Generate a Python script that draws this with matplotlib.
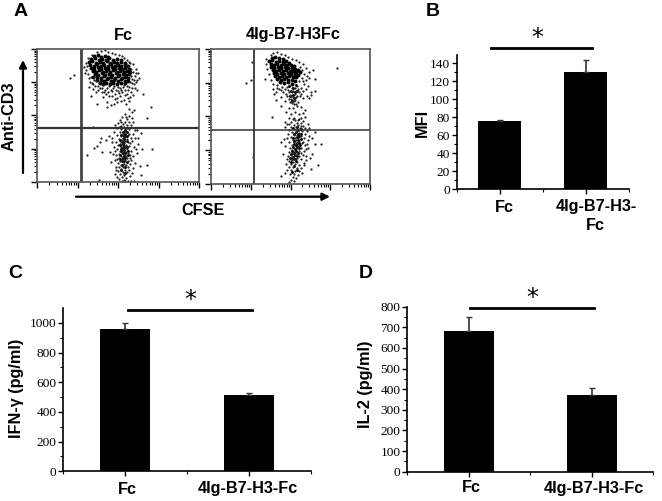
import numpy as np
import matplotlib
matplotlib.use('Agg')
import matplotlib.pyplot as plt
from matplotlib.lines import Line2D
from matplotlib.patches import FancyArrowPatch

W, H = 662, 501
plt.rcParams['font.family'] = 'Liberation Sans'

# Datos de barras
mfi = [76, 130]
mfi_err = [1, 13]
ifn = [957, 514]
ifn_err = [43, 16]
il2 = [680, 373]
il2_err = [68, 34]
labels_b = ['Fc', '4Ig-B7-H3-\nFc']
labels_cd = ['Fc', '4Ig-B7-H3-Fc']

# Citometria: puntos leidos a ojo (canal CFSE, canal CD3)
fc_core = [(57,126),(61,127),(64,125),(68,126),(71,125),(54,123),(58,124),(62,122),(65,123),(69,122),(72,124),(76,122),
(52,120),(55,121),(59,119),(63,120),(66,119),(70,121),(73,119),(77,120),(80,119),
(53,117),(57,116),(60,118),(64,116),(67,117),(71,116),(74,118),(78,116),(81,117),(84,116),
(54,114),(57,113),(61,115),(64,113),(68,114),(71,113),(75,115),(78,113),(82,114),(85,113),(88,114),
(56,111),(59,110),(62,112),(66,110),(69,111),(73,110),(76,112),(80,110),(83,111),(87,110),(90,111),
(58,108),(61,107),(65,109),(68,107),(72,108),(75,107),(79,109),(82,107),(86,108),(89,107),(92,108),
(60,105),(64,104),(67,106),(71,104),(74,105),(78,104),(81,106),(85,104),(88,105),(91,104),
(64,102),(67,101),(70,103),(74,101),(77,102),(81,101),(84,103),(88,101),(69,99),(73,98),(76,99),(80,98),(84,99),
(80,123),(84,122),(84,120),(88,119),(88,117),(91,116),(92,113),(93,110),(56,105),(60,102),(63,99),(66,98),(88,99),(91,101)]
fc_halo = [(60,130),(64,131),(68,132),(71,130),(75,129),(78,128),(82,127),(85,126),(87,124),(90,122),(92,120),(96,118),
(99,113),(101,109),(98,106),(102,104),(95,103),(93,100),(97,98),(90,96),(86,95),(81,95),(76,94),(72,96),(66,97),(62,99),
(57,102),(54,105),(51,108),(49,112),(50,116),(49,119),(51,124),(55,127),(52,95),(56,93),(59,90),(54,86),(61,92),(65,90),
(69,88),(72,86),(75,91),(78,88),(80,84),(83,86),(85,90),(87,82),(90,88),(93,85),(96,87),(100,92),(106,88),(89,78),(92,73),
(60,78),(70,80),(74,77),(70,75),(77,78),(80,80),(114,75),(110,64),(95,70),(97,72),(33,104),(37,107),(58,96),(63,94),(88,92),
(84,92),(79,92),(68,92),(91,92),(99,100),(53,100),(47,115),(55,99),(59,101),(61,96),(65,94),(70,94),(74,92),(77,96),(83,94),
(87,97),(92,95),(95,94),(98,94),(95,99),(100,102),(97,102),(94,106),(96,110),(99,109),(94,113),(91,115),(93,119),(89,118),
(48,109),(52,104),(56,98),(67,90),(71,90),(82,89),(88,87),(91,84),(94,90),(81,91),(75,86),(78,83),(66,85),(84,81),(92,81)]
fc_low = [(88,68),(92,66),(85,65),(90,63),(95,64),(83,62),(88,60),(92,60),(86,58),(81,59),(90,57),(84,56),(94,57),(87,55),
(80,54),(90,54),(84,53),(92,53),(87,51),(98,52),(83,50),(89,50),(86,48),(91,47),(84,46),(88,45),(86,44),(90,43),(85,42),
(88,41),(84,40),(91,40),(87,39),(83,38),(89,37),(86,36),(92,36),(84,35),(88,34),(85,33),(90,33),(83,31),(87,31),(89,30),
(85,29),(91,29),(82,28),(87,27),(84,26),(89,26),(86,25),(82,24),(90,24),(85,23),(88,22),(83,21),(86,20),(91,21),(81,19),
(87,18),(84,17),(89,17),(82,15),(86,15),(91,15),(84,13),(88,12),(81,11),(86,10),(90,10),(83,8),(87,7),(85,5),(89,4),(82,3),(87,2),
(77,50),(75,44),(72,46),(79,40),(77,35),(76,28),(74,20),(78,22),(79,15),(78,8),(80,5),(96,48),(98,44),(95,41),(101,38),(97,35),
(94,31),(100,29),(96,26),(94,22),(98,19),(93,18),(96,14),(95,9),(103,16),(100,52),(104,49),(105,33),(92,48),(94,44),(93,27),
(60,36),(57,34),(65,30),(63,40),(69,42),(50,27),(64,44),(115,33),(110,17),(104,7),(62,2),(75,40),(73,30),(56,55),
(85,1),(88,1),(91,1),(94,1),(97,1),(80,47),(82,43),(93,39),(80,33),(79,27),(93,24),(80,23),(92,12),(79,12),(93,6),(84,60),
(89,65),(96,60),(78,57),(101,44),(99,33),(78,31),(81,37)]
fc_streak = [(88,52),(86,50),(88,48),(87,46),(87,43),(86,40),(86,38),(87,36),(86,34),(87,32),(86,29),(87,26),(86,24),(85,21),(88,29),(84,31),
(88,24),(87,21),(83,55),(90,50),(84,47),(90,46),(83,42),(90,41),(83,37),(90,35),(84,33),(91,31),(83,27),(91,27),(83,23),(90,20),
(85,17),(88,15),(84,12),(88,9)]

b7_core = [(61,126),(64,127),(68,126),(72,125),(58,123),(61,124),(65,122),(68,123),(72,122),(75,123),(78,121),
(60,120),(63,119),(66,120),(70,119),(73,120),(76,119),(80,119),(83,118),
(60,117),(63,116),(67,117),(70,116),(74,117),(77,116),(81,116),(84,115),(87,114),
(62,114),(65,113),(68,114),(72,113),(75,114),(79,113),(82,113),(85,112),(89,112),
(63,111),(66,110),(70,111),(73,110),(77,111),(80,110),(84,110),(87,109),
(64,108),(68,107),(71,108),(75,107),(78,108),(82,107),(85,107),(66,105),(70,104),(73,105),(77,104),(81,104),(84,103),
(69,102),(73,101),(77,102),(81,100)]
b7_halo = [(60,129),(62,131),(66,132),(70,130),(74,129),(77,127),(81,125),(85,124),(88,122),(92,120),(95,116),(98,112),
(102,114),(104,105),(98,106),(95,104),(91,106),(88,103),(93,100),(97,98),(100,92),(90,96),(86,98),(81,96),(76,97),(71,97),
(66,99),(62,100),(60,104),(54,105),(58,110),(56,115),(55,120),(55,125),(62,95),(65,92),(68,95),(63,90),(72,92),(75,90),(70,87),
(78,92),(80,88),(82,93),(84,90),(86,88),(88,92),(90,90),(92,86),(78,85),(76,88),(81,84),(84,84),(79,82),(83,80),(87,82),(74,83),
(65,84),(70,78),(78,76),(82,76),(86,78),(90,77),(94,74),(98,86),(100,89),(75,72),(80,70),(84,72),(88,70),(92,71),(78,66),
(83,66),(87,64),(90,66),(94,67),(126,116),(35,101),(40,104),(41,122),(61,67),(74,62),(104,93),(96,88),
(85,87),(82,87),(79,89),(77,94),(74,95),(70,94),(66,96),(87,95),(92,93),(95,95),(92,103),(96,108),(93,110),(91,114),(89,117),
(84,96),(81,92),(85,93),(89,88),(84,86),(80,85),(83,83),(81,81),(85,80)]
b7_low = [(84,64),(88,65),(92,63),(80,62),(86,61),(90,61),(76,60),(83,59),(87,59),(92,58),(97,60),(74,57),(80,57),(85,57),(89,56),
(94,56),(78,54),(83,55),(86,54),(91,53),(96,53),(81,52),(85,52),(88,51),(94,50),(77,50),(83,49),(86,49),(90,48),(98,48),
(80,47),(84,46),(87,46),(93,46),(73,45),(82,44),(85,44),(88,43),(97,44),(78,42),(83,42),(86,41),(91,41),(81,39),(84,39),(87,38),
(94,39),(104,40),(110,40),(74,38),(79,36),(83,36),(86,36),(90,36),(97,36),(81,34),(84,33),(88,33),(93,33),(78,32),(82,31),(86,31),
(80,29),(84,29),(88,28),(92,29),(101,30),(77,28),(81,27),(83,26),(86,26),(90,25),(80,25),(84,24),(78,23),(82,22),(86,22),(95,24),
(75,20),(80,20),(84,20),(88,19),(93,19),(107,19),(78,17),(82,17),(86,16),(90,16),(100,15),(76,14),(80,14),(84,13),(88,13),(74,11),
(79,10),(83,10),(87,9),(82,7),(85,6),(80,4),(83,3),(78,2),(70,8),(42,27),(72,30),(70,42),(104,52),(101,46),(98,56),(99,26),
(76,46),(92,42),(95,35),(90,31),(76,25),(93,21),(91,11),(95,28),(90,58),(78,60),(82,65),(96,40)]
b7_streak = [(86,57),(87,54),(85,52),(87,50),(86,47),(87,44),(86,41),(85,39),(86,37),(84,35),(85,33),(83,31),(84,29),(82,27),(81,25),(84,25),
(88,48),(88,41),(83,43),(82,37),(82,56),(90,55),(83,50),(90,50),(82,46),(90,45),(83,40),(89,39),(81,33),(88,36),(80,30),(87,31),
(79,26),(86,28),(80,22),(85,23),(83,18),(86,14),(81,12),(78,98),(82,96),(85,99),(80,93),(84,92),(82,89),(86,93),(79,88),(83,86),(81,83)]

paneles = [('Fc', (37.3, 49, 199, 181.7), 43.3, 53.5, 2.0, fc_core, fc_halo + fc_low, fc_streak),
           ('4Ig-B7-H3Fc', (211, 49, 370, 184), 43, 54.3, 1.4, b7_core, b7_halo + b7_low, b7_streak)]

fig = plt.figure(figsize=(W / 100, H / 100), dpi=100)


def caja(x0, y0, x1, y1):
    return fig.add_axes([x0 / W, 1 - y1 / H, (x1 - x0) / W, (y1 - y0) / H])


def texto(x, y, s, size=11.7, weight='bold', **kw):
    kw.setdefault('ha', 'center')
    fig.text(x / W, 1 - y / H, s, fontsize=size, fontweight=weight, va='center', **kw)


def linea(x0, x1, y, lw=2):
    fig.add_artist(Line2D([x0 / W, x1 / W], [1 - y / H, 1 - y / H], color='black', lw=lw))


def flecha(x0, y0, x1, y1):
    fig.add_artist(FancyArrowPatch((x0 / W, 1 - y0 / H), (x1 / W, 1 - y1 / H),
                   transform=fig.transFigure, arrowstyle='-|>', mutation_scale=11, color='black', lw=1.6,
                   shrinkA=0, shrinkB=0))


def asterisco(x, y):
    fig.text(x / W, 1 - y / H, '*', fontsize=17, family='DejaVu Sans', ha='center', va='center')


# Panel A
for nombre, pos, vx, hy, lw, core, sueltos, streak in paneles:
    ax = caja(*pos)
    ancho = pos[2] - pos[0]
    alto = pos[3] - pos[1]
    ax.set_xlim(0, ancho)
    ax.set_ylim(0, alto)
    ax.scatter([p[0] for p in core], [p[1] for p in core], s=8, color='black', lw=0)
    ax.scatter([p[0] for p in streak], [p[1] for p in streak], s=4.5, color='black', lw=0)
    ax.scatter([p[0] for p in sueltos], [p[1] for p in sueltos], s=2.6, color='#222222', lw=0)
    ax.axvline(vx, color='#444444', lw=lw)
    ax.axhline(hy, color='#333333', lw=lw * 0.8)
    dec = [d + np.log10(m) for d in range(4) for m in range(1, 10)] + [4]
    ax.set_xticks([v * ancho / 4 for v in range(5)])
    ax.set_xticks([v * ancho / 4 for v in dec], minor=True)
    ax.set_yticks([v * alto / 4 for v in range(5)])
    ax.set_yticks([v * alto / 4 for v in dec], minor=True)
    ax.tick_params(which='major', length=4, width=1, labelleft=False, labelbottom=False)
    ax.tick_params(which='minor', length=2.2, width=0.8)
    for s in ax.spines.values():
        s.set_color('#555555')
        s.set_linewidth(1.2)

texto(21, 12, 'A', size=14)
texto(123, 35.5, 'Fc')
texto(292.7, 35, '4Ig-B7-H3Fc')
texto(9.5, 116.7, 'Anti-CD3', rotation=90)
texto(203, 210.7, 'CFSE')
flecha(23, 173, 23, 60)
flecha(76, 196.7, 330, 196.7)


def barras(pos, vals, errs, width, major, minor):
    ax = caja(*pos[:4])
    ax.bar([1, 2], vals, width=width, color='black')
    ax.errorbar([1, 2], vals, yerr=[[0, 0], errs], fmt='none', ecolor='#333333', elinewidth=1.2, capsize=2, capthick=1)
    ax.set_xlim(0.5, 2.5)
    ax.set_ylim(0, pos[4])
    ax.set_xticks([1, 2])
    ax.set_xticks([0.5, 1.5, 2.5], minor=True)
    ax.set_xticklabels([])
    ax.set_yticks(major)
    ax.set_yticks(minor, minor=True)
    ax.set_yticklabels([str(v) for v in major])
    ax.tick_params(which='major', length=3.5, width=1, pad=1.5, labelsize=9.6, labelfontfamily='Liberation Serif')
    ax.tick_params(which='minor', length=2, width=0.8)
    ax.spines['top'].set_visible(False)
    ax.spines['right'].set_visible(False)
    for s in ['left', 'bottom']:
        ax.spines[s].set_linewidth(1.2)
    return ax


# Panel B
barras((456.7, 55, 628.7, 189.3, 149), mfi, mfi_err, 0.5, list(range(0, 141, 20)), list(range(10, 141, 20)))
texto(433, 11, 'B', size=14)
texto(422, 123, 'MFI', rotation=90)
texto(504, 207, labels_b[0])
texto(596.7, 207, labels_b[1].split('\n')[0])
texto(595, 226, labels_b[1].split('\n')[1])
linea(490.7, 592.3, 47.7)
asterisco(537.7, 38)

# Panel C
barras((63.3, 307.7, 311, 471.3, 1103), ifn, ifn_err, 0.4, list(range(0, 1001, 200)), list(range(100, 1001, 200)))
texto(15.7, 274, 'C', size=14)
texto(16.7, 388, 'IFN-γ (pg/ml)', rotation=90)
texto(127, 489, labels_cd[0])
texto(248, 489, labels_cd[1])
linea(128, 252.3, 310)
asterisco(190, 300)

# Panel D
barras((407.3, 306.7, 653.3, 471.7, 800), il2, il2_err, 0.407, list(range(0, 801, 100)), list(range(50, 801, 100)))
texto(366, 274, 'D', size=14)
texto(366, 384, 'IL-2 (pg/ml)', rotation=90)
texto(471.3, 488, labels_cd[0])
texto(593.7, 488, labels_cd[1])
linea(469.7, 594, 308.3)
asterisco(532, 298)

fig.savefig('out.png', dpi=100)
